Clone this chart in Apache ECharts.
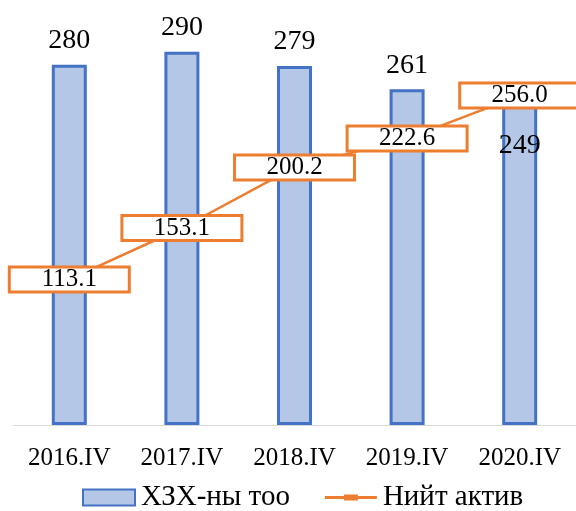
<!DOCTYPE html>
<html><head><meta charset="utf-8">
<script src="https://cdn.jsdelivr.net/npm/echarts@6/dist/echarts.min.js"></script>
<style>html,body{margin:0;padding:0;background:#fff}#c{width:576px;height:511px}</style>
</head><body><div id="c"></div>
<script>
var categories = ['2016.IV','2017.IV','2018.IV','2019.IV','2020.IV'];
var barValues = [280, 290, 279, 261, 249];
var lineValues = [113.1, 153.1, 200.2, 222.6, 256.0];
var barName = 'ХЗХ-ны тоо';
var lineName = 'Нийт актив';

var font = '"Liberation Serif", "Times New Roman", serif';
var chart = echarts.init(document.getElementById('c'));
var barData = barValues.map(function(v, i){
  if (i === 4) return {value: v, label: {position: 'insideTop', distance: 27}};
  return v;
});
chart.setOption({
  animation: false,
  textStyle: {fontFamily: font},
  grid: {left: 13, width: 565, top: 39, bottom: 86, containLabel: false},
  legend: {
    top: 483, left: 82, padding: 0, itemGap: 35, itemWidth: 52, itemHeight: 16,
    textStyle: {fontFamily: font, fontSize: 29, color: '#000', padding: [0, 0, 0, 1]},
    data: [
      {name: barName, icon: 'rect'},
      {name: lineName, icon: 'path://M0,6.5 L19,6.5 L19,5 L33,5 L33,6.5 L52,6.5 L52,9.5 L33,9.5 L33,11 L19,11 L19,9.5 L0,9.5 Z'}
    ]
  },
  xAxis: {
    type: 'category', data: categories,
    axisLine: {lineStyle: {color: '#D9D9D9', width: 1}},
    axisTick: {show: false},
    axisLabel: {fontFamily: font, fontSize: 25, color: '#000', margin: 21}
  },
  yAxis: {type: 'value', min: 0, max: 300, show: false, splitLine: {show: false}},
  series: [{
    name: barName, type: 'bar', data: barData, barWidth: 35,
    itemStyle: {color: '#B4C7E7', borderColor: '#4472C4', borderWidth: 3},
    label: {show: true, position: 'top', distance: 10, fontFamily: font, fontSize: 28, color: '#000'}
  }, {
    name: lineName, type: 'line', data: lineValues,
    symbol: 'circle', symbolSize: 1, showSymbol: true,
    lineStyle: {color: '#ED7D31', width: 2.5},
    itemStyle: {color: '#ED7D31'},
    z: 5,
    label: {
      show: true, position: 'inside', fontFamily: font, fontSize: 25, color: '#000',
      formatter: function(p){ return p.value.toFixed(1); },
      backgroundColor: '#fff', borderColor: '#ED7D31', borderWidth: 3,
      width: 117, height: 22, align: 'center', verticalAlign: 'middle', lineHeight: 22,
      padding: 0
    }
  }]
});
</script></body></html>
